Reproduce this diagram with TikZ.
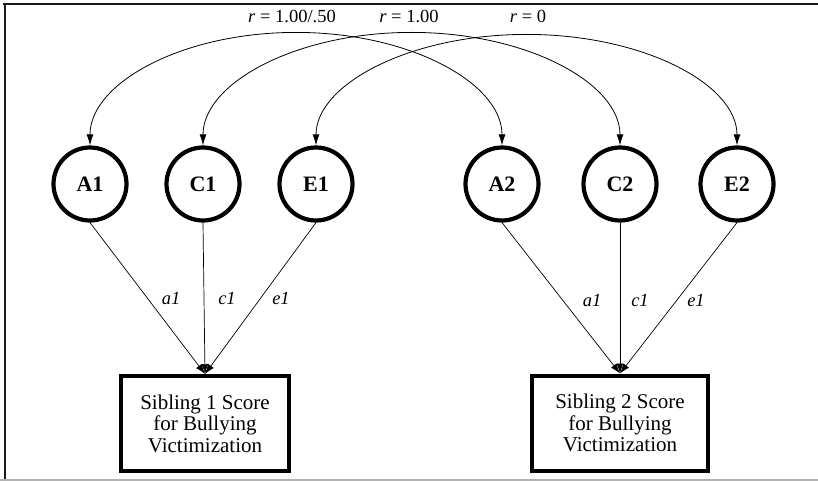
\documentclass[tikz,border=0pt]{standalone}
\usepackage{fontspec}
\setmainfont{Liberation Serif}
\usetikzlibrary{arrows.meta}
\begin{document}
\begin{tikzpicture}[x=1pt,y=-1pt,
  latent/.style={circle,draw,line width=4.2pt,minimum size=73pt,inner sep=0pt,font=\fontsize{22}{24}\selectfont\bfseries},
  observed/.style={rectangle,draw,line width=4pt,minimum height=95pt,inner sep=0pt,align=center,font=\fontsize{21}{21.5}\selectfont},
  covar/.style={line width=0.8pt,{Latex[length=11pt,width=7pt]}-{Latex[length=11pt,width=7pt]}},
  load/.style={line width=0.7pt,-{Latex[length=10pt,width=7pt]}},
  rlab/.style={font=\fontsize{18.5}{20}\selectfont,inner sep=0pt},
  plab/.style={font=\fontsize{18.5}{20}\selectfont\itshape,inner sep=0pt},
  frame/.style={line width=2pt,black!90}]
\useasboundingbox (0,0) rectangle (818,481);
\draw[frame] (3,3.8) -- (818,3.8);
\draw[frame] (4.8,3) -- (4.8,481);
\draw[black!30,line width=1.5pt] (0,480.2) -- (818,480.2);

\node[latent] (A1) at (90,184) {A1};
\node[latent] (C1) at (203,184) {C1};
\node[latent] (E1) at (316,184) {E1};
\node[latent] (A2) at (502,184) {A2};
\node[latent] (C2) at (620,184) {C2};
\node[latent] (E2) at (737,184) {E2};

\node[observed,minimum width=168pt] (S1) at (205,423.5) {Sibling 1 Score\\for Bullying\\Victimization};
\node[observed,minimum width=176pt] (S2) at (620,423) {Sibling 2 Score\\for Bullying\\Victimization};

\draw[covar] (A1.north) arc[start angle=180,end angle=0,x radius=206pt,y radius=113pt];
\draw[covar] (C1.north) arc[start angle=180,end angle=0,x radius=208.5pt,y radius=113pt];
\draw[covar] (E1.north) arc[start angle=180,end angle=0,x radius=210.5pt,y radius=111pt];

\node[rlab] (r1) at (292,16) {\textit{r} = 1.00/.50};
\node[rlab] (r2) at (409,16) {\textit{r} = 1.00};
\node[rlab] (r3) at (528,16) {\textit{r} = 0};

\draw[load] (A1.south) -- (S1.north);
\draw[load] (C1.south) -- (S1.north);
\draw[load] (E1.south) -- (S1.north);
\draw[load] (A2.south) -- (S2.north);
\draw[load] (C2.south) -- (S2.north);
\draw[load] (E2.south) -- (S2.north);

\node[plab] (a1l) at (171,298) {a1};
\node[plab] (c1l) at (227,298) {c1};
\node[plab] (e1l) at (281,298) {e1};
\node[plab] (a2l) at (592,300) {a1};
\node[plab] (c2l) at (640,300) {c1};
\node[plab] (e2l) at (696,300) {e1};
\end{tikzpicture}
\end{document}
